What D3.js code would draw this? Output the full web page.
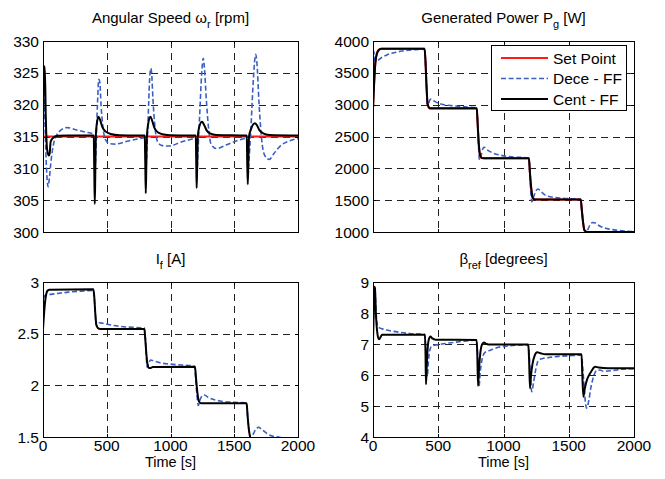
<!DOCTYPE html>
<html><head><meta charset="utf-8">
<script src="https://cdn.jsdelivr.net/npm/d3@7"></script>
<style>body{margin:0;background:#fff}</style>
</head><body>
<svg id="c" width="665" height="479"></svg>
<script>
// ---------- data ----------
const timeTicks = [0, 500, 1000, 1500, 2000];
const speedTicks = [300, 305, 310, 315, 320, 325, 330];
const powerTicks = [1000, 1500, 2000, 2500, 3000, 3500, 4000];
const fieldTicks = [1.5, 2, 2.5, 3];
const pitchTicks = [4, 5, 6, 7, 8, 9];
const seriesNames = ["Set Point", "Dece - FF", "Cent - FF"];

const speedSet = [[0,315],[2000,315]];
const speedDece = [[0,315],[4,324.5],[10,322],[20,314],[30,309],[40,307.1],[50,308.5],[65,311.5],[85,314],[107,315.2],[140,316],[190,316.4],[250,316.1],[330,315.7],[395,315.4],[402,313],[408,310],[414,312],[420,316],[428,320.5],[438,324],[446,323.5],[455,320],[470,316.5],[490,314.5],[520,313.9],[565,313.8],[650,314.2],[740,314.6],[798,314.8],[804,312],[809,310.5],[815,313],[825,318],[835,323.5],[845,325.7],[852,325],[862,321],[878,316.5],[898,314.2],[930,313.6],[990,313.5],[1080,314.1],[1150,314.5],[1198,314.7],[1204,311.5],[1208,309.5],[1215,312.5],[1228,318],[1245,325],[1257,327.3],[1265,326],[1282,320.5],[1300,316],[1318,313.8],[1362,313.1],[1440,313.7],[1530,314.4],[1598,314.7],[1603,311],[1608,308.7],[1615,311],[1630,316],[1650,324],[1668,327.9],[1678,326.5],[1695,320],[1715,314.5],[1740,312],[1775,311.4],[1810,312.3],[1860,313.5],[1930,314.3],[2000,314.7]];
const speedCent = [[0,315],[5,326],[14,326],[22,318],[32,313],[45,312],[52,312.3],[60,314.2],[80,314.8],[120,315.1],[200,315.15],[398,315.15],[402,310],[406,304.4],[410,309],[414,315],[422,317],[435,318.1],[448,317.6],[465,316.5],[490,315.8],[530,315.4],[600,315.2],[798,315.15],[802,311],[806,306.1],[810,310],[815,315],[825,317],[843,318.1],[856,317.5],[875,316.3],[905,315.6],[950,315.3],[1000,315.2],[1198,315.15],[1202,311],[1205,306.9],[1209,310],[1214,315],[1225,316.5],[1247,317.3],[1262,316.9],[1282,316],[1310,315.5],[1360,315.25],[1598,315.15],[1602,311],[1606,307.5],[1610,310.5],[1616,315],[1632,316.2],[1662,317.1],[1677,316.8],[1697,316],[1727,315.5],[1775,315.25],[2000,315.15]];

const powerSet = [[0,2940],[8,3320],[18,3660],[30,3810],[45,3865],[60,3880],[395,3880],[402,3680],[410,3280],[418,3000],[428,2950],[440,2940],[795,2940],[802,2690],[812,2330],[822,2190],[835,2160],[1195,2160],[1202,1940],[1212,1690],[1222,1540],[1235,1510],[1592,1510],[1600,1340],[1610,1140],[1620,1020],[1635,1000],[2000,1000]];
const powerDece = [[0,2950],[4,3500],[8,3830],[13,3720],[22,3680],[40,3700],[70,3745],[110,3785],[160,3815],[220,3842],[300,3862],[395,3870],[402,3650],[410,3300],[418,3000],[425,3010],[435,3075],[447,3090],[470,3055],[520,3010],[600,2985],[700,2965],[795,2952],[803,2650],[810,2300],[816,2135],[826,2180],[840,2300],[852,2330],[875,2290],[920,2240],[980,2205],[1060,2180],[1195,2165],[1203,1850],[1211,1560],[1218,1475],[1232,1560],[1250,1650],[1266,1675],[1285,1640],[1320,1580],[1370,1550],[1450,1530],[1590,1515],[1600,1350],[1612,1120],[1625,1010],[1640,1020],[1660,1100],[1685,1150],[1705,1140],[1740,1090],[1790,1055],[1860,1030],[1930,1015],[2000,1008]];
const powerCent = [[0,2940],[8,3300],[18,3650],[30,3800],[45,3860],[65,3880],[395,3880],[402,3700],[410,3300],[418,3020],[428,2960],[440,2942],[795,2942],[802,2700],[812,2350],[822,2200],[835,2165],[850,2160],[1195,2160],[1202,1950],[1212,1700],[1222,1550],[1235,1515],[1250,1510],[1592,1510],[1600,1350],[1610,1150],[1620,1030],[1635,1005],[1650,1000],[2000,1000]];

const fieldDece = [[0,2.55],[5,2.78],[10,2.86],[20,2.875],[60,2.88],[120,2.89],[200,2.902],[300,2.912],[395,2.918],[402,2.85],[410,2.7],[418,2.575],[428,2.59],[440,2.605],[470,2.6],[550,2.58],[650,2.565],[795,2.555],[803,2.45],[810,2.3],[816,2.175],[828,2.21],[845,2.245],[870,2.235],[930,2.215],[1020,2.203],[1190,2.185],[1198,2.05],[1208,1.9],[1218,1.805],[1232,1.86],[1250,1.9],[1265,1.906],[1300,1.88],[1390,1.848],[1500,1.835],[1597,1.83],[1605,1.7],[1615,1.57],[1628,1.49],[1645,1.52],[1670,1.575],[1690,1.594],[1715,1.575],[1760,1.53],[1810,1.505],[1846,1.5],[1900,1.485],[2000,1.47]];
const fieldCent = [[0,2.54],[10,2.72],[22,2.86],[35,2.915],[50,2.925],[395,2.93],[402,2.86],[410,2.7],[418,2.59],[430,2.555],[448,2.545],[795,2.545],[802,2.45],[811,2.3],[820,2.2],[832,2.168],[845,2.168],[860,2.178],[1192,2.18],[1200,2.07],[1210,1.94],[1222,1.85],[1236,1.828],[1250,1.826],[1597,1.826],[1605,1.7],[1615,1.57],[1625,1.5],[1640,1.47],[2000,1.47]];

const pitchDece = [[0,7.05],[5,8.0],[10,8.75],[16,8.7],[24,8.0],[34,7.6],[50,7.52],[80,7.48],[130,7.43],[200,7.38],[280,7.34],[395,7.31],[402,7.0],[408,6.3],[416,5.95],[424,6.4],[435,6.8],[452,6.94],[500,6.98],[600,7.04],[700,7.09],[794,7.12],[800,6.8],[806,6.2],[812,5.62],[822,6.1],[838,6.55],[858,6.73],[900,6.8],[948,6.88],[1020,6.93],[1100,6.96],[1190,6.97],[1198,6.6],[1207,5.9],[1216,5.46],[1230,5.75],[1248,6.2],[1267,6.47],[1300,6.53],[1360,6.57],[1420,6.6],[1500,6.62],[1598,6.64],[1606,6.3],[1618,5.6],[1628,5.1],[1637,4.93],[1650,5.1],[1670,5.6],[1690,5.95],[1714,6.15],[1740,6.16],[1765,6.12],[1830,6.14],[1918,6.19],[2000,6.2]];
const pitchCent = [[0,7.05],[5,8.0],[10,8.85],[15,8.8],[22,8.0],[32,7.4],[45,7.15],[55,7.2],[70,7.3],[398,7.3],[402,6.8],[406,5.7],[411,6.2],[418,6.8],[428,7.15],[440,7.24],[455,7.18],[480,7.14],[794,7.13],[799,6.7],[805,5.65],[811,6.1],[822,6.7],[835,6.98],[850,7.05],[870,7.0],[900,6.98],[1190,6.98],[1196,6.5],[1203,5.57],[1210,5.95],[1222,6.35],[1238,6.62],[1258,6.73],[1285,6.7],[1320,6.67],[1598,6.67],[1604,6.0],[1612,5.3],[1622,5.55],[1640,5.85],[1663,6.05],[1685,6.2],[1702,6.27],[1730,6.24],[1800,6.22],[2000,6.22]];

// ---------- drawing ----------
const FONT = "'Liberation Sans', Arial, Helvetica, sans-serif";
const FS = 15.5;
const TFS = 15;
const svg = d3.select("#c");
svg.append("rect").attr("width", 665).attr("height", 479).attr("fill", "#fff");

const styles = {
  set:  {stroke: "#ff1a1a", width: 2, dash: null},
  dece: {stroke: "#3a5fc4", width: 1.6, dash: "5,2.6"},
  cent: {stroke: "#000", width: 2, dash: null}
};

function panel(cfg, idx) {
  const x = d3.scaleLinear().domain([0, 2000]).range([cfg.x0, cfg.x1]);
  const y = d3.scaleLinear().domain(cfg.yDomain).range([cfg.y1, cfg.y0]);
  const g = svg.append("g");
  const clipId = "clip" + idx;
  svg.append("clipPath").attr("id", clipId).append("rect")
    .attr("x", cfg.x0).attr("y", cfg.y0).attr("width", cfg.x1 - cfg.x0).attr("height", cfg.y1 - cfg.y0);

  // grid
  const grid = g.append("g").attr("stroke", "#222").attr("stroke-width", 1).attr("stroke-dasharray", "7,5");
  timeTicks.slice(1, -1).forEach(t => {
    grid.append("line").attr("x1", Math.round(x(t)) + 0.5).attr("x2", Math.round(x(t)) + 0.5)
      .attr("y1", cfg.y0).attr("y2", cfg.y1);
  });
  cfg.yTicks.slice(1, -1).forEach(v => {
    grid.append("line").attr("y1", Math.round(y(v)) + 0.5).attr("y2", Math.round(y(v)) + 0.5)
      .attr("x1", cfg.x0).attr("x2", cfg.x1);
  });

  // series
  const line = d3.line().x(d => x(d[0])).y(d => y(d[1])).curve(d3.curveMonotoneX);
  const lg = g.append("g").attr("clip-path", `url(#${clipId})`);
  cfg.series.forEach(s => {
    const st = styles[s.style];
    lg.append("path").datum(s.data).attr("d", line).attr("fill", "none")
      .attr("stroke", st.stroke).attr("stroke-width", st.width)
      .attr("stroke-dasharray", st.dash).attr("stroke-linejoin", "round");
  });

  // ticks (inward, all sides)
  const tk = g.append("g").attr("stroke", "#000").attr("stroke-width", 1);
  const TL = 3;
  timeTicks.forEach(t => {
    const px = Math.round(x(t)) + 0.5;
    tk.append("line").attr("x1", px).attr("x2", px).attr("y1", cfg.y1).attr("y2", cfg.y1 - TL);
    tk.append("line").attr("x1", px).attr("x2", px).attr("y1", cfg.y0).attr("y2", cfg.y0 + TL);
  });
  cfg.yTicks.forEach(v => {
    const py = Math.round(y(v)) + 0.5;
    tk.append("line").attr("y1", py).attr("y2", py).attr("x1", cfg.x0).attr("x2", cfg.x0 + TL);
    tk.append("line").attr("y1", py).attr("y2", py).attr("x1", cfg.x1).attr("x2", cfg.x1 - TL);
  });

  // box
  g.append("rect").attr("x", cfg.x0 + 0.5).attr("y", cfg.y0 + 0.5)
    .attr("width", cfg.x1 - cfg.x0).attr("height", cfg.y1 - cfg.y0)
    .attr("fill", "none").attr("stroke", "#000").attr("stroke-width", 1);

  // y labels
  cfg.yTicks.forEach(v => {
    g.append("text").attr("x", cfg.x0 - 4).attr("y", y(v)).attr("dy", "0.36em")
      .attr("text-anchor", "end").attr("font-family", FONT).attr("font-size", FS)
      .attr("fill", "#000").text(String(v));
  });
  // x labels
  if (cfg.xLabels) {
    timeTicks.forEach(t => {
      g.append("text").attr("x", x(t)).attr("y", cfg.y1 + 14)
        .attr("text-anchor", "middle").attr("font-family", FONT).attr("font-size", FS)
        .attr("fill", "#000").text(String(t));
    });
    g.append("text").attr("x", (cfg.x0 + cfg.x1) / 2).attr("y", cfg.y1 + 30)
      .attr("text-anchor", "middle").attr("font-family", FONT).attr("font-size", 14.5)
      .attr("fill", "#000").text("Time [s]");
  }
  // title
  const tt = g.append("text").attr("x", (cfg.x0 + cfg.x1) / 2).attr("y", cfg.y0 - 18)
    .attr("text-anchor", "middle").attr("font-family", FONT).attr("font-size", TFS).attr("fill", "#000");
  cfg.title.forEach(p => {
    if (p.sub) tt.append("tspan").attr("font-size", 11).attr("dy", 5).text(p.t);
    else tt.append("tspan").attr("dy", p.after ? -5 : 0).text(p.t);
  });
  return {x, y, g};
}

panel({x0: 43, x1: 298, y0: 41, y1: 232, yDomain: [300, 330], yTicks: speedTicks, xLabels: false,
  title: [{t: "Angular Speed ω"}, {t: "r", sub: true}, {t: " [rpm]", after: true}],
  series: [{data: speedSet, style: "set"}, {data: speedDece, style: "dece"}, {data: speedCent, style: "cent"}]}, 0);

panel({x0: 373, x1: 634, y0: 41, y1: 232, yDomain: [1000, 4000], yTicks: powerTicks, xLabels: false,
  title: [{t: "Generated Power P"}, {t: "g", sub: true}, {t: " [W]", after: true}],
  series: [{data: powerSet, style: "set"}, {data: powerDece, style: "dece"}, {data: powerCent, style: "cent"}]}, 1);

panel({x0: 43, x1: 298, y0: 282, y1: 437, yDomain: [1.5, 3], yTicks: fieldTicks, xLabels: true,
  title: [{t: "I"}, {t: "f", sub: true}, {t: " [A]", after: true}],
  series: [{data: fieldDece, style: "dece"}, {data: fieldCent, style: "cent"}]}, 2);

panel({x0: 373, x1: 634, y0: 282, y1: 437, yDomain: [4, 9], yTicks: pitchTicks, xLabels: true,
  title: [{t: "β"}, {t: "ref", sub: true}, {t: " [degrees]", after: true}],
  series: [{data: pitchDece, style: "dece"}, {data: pitchCent, style: "cent"}]}, 3);

// legend
const lgd = svg.append("g");
lgd.append("rect").attr("x", 491.5).attr("y", 45.5).attr("width", 135).attr("height", 65)
  .attr("fill", "#fff").attr("stroke", "#000").attr("stroke-width", 1);
const legendStyles = ["set", "dece", "cent"];
seriesNames.forEach((name, i) => {
  const st = styles[legendStyles[i]];
  const cy = 58 + i * 20.5;
  lgd.append("line").attr("x1", 501).attr("x2", 548).attr("y1", cy).attr("y2", cy)
    .attr("stroke", st.stroke).attr("stroke-width", st.width).attr("stroke-dasharray", st.dash);
  lgd.append("text").attr("x", 553).attr("y", cy).attr("dy", "0.36em")
    .attr("font-family", FONT).attr("font-size", FS).attr("fill", "#000").text(name);
});
</script>
</body></html>
